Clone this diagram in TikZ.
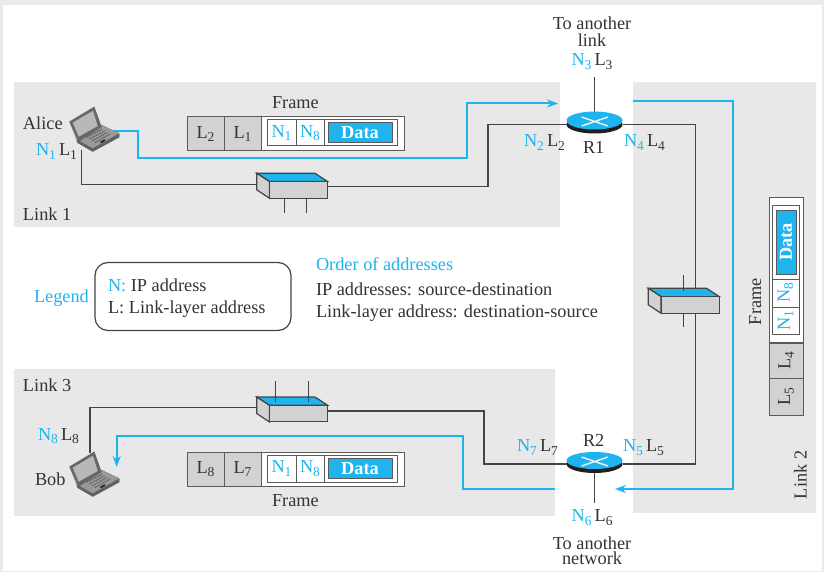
\documentclass[tikz,border=0pt]{standalone}
\usepackage{fontspec}
\setmainfont{Liberation Serif}
\usetikzlibrary{arrows.meta,shapes.geometric}
\definecolor{pagegrey}{HTML}{E9EAEA}
\definecolor{panelgrey}{HTML}{E8E8E8}
\definecolor{cellgrey}{HTML}{D2D2D2}
\definecolor{inkdark}{HTML}{333333}
\definecolor{wiredark}{HTML}{444444}
\definecolor{boxline}{HTML}{5A5A5A}
\definecolor{netblue}{HTML}{1FB4EE}
\newcommand\lsub[1]{\raisebox{-3.5pt}{\fontsize{13.5}{13.5}\selectfont #1}}
\newcommand\addr[4]{{\color{netblue}#1\lsub{#2}}\,#3\lsub{#4}}
\tikzset{
  x=1pt,y=-1pt,
  every node/.style={font=\fontsize{18.3}{18.3}\selectfont,text=inkdark,inner sep=0pt,outer sep=0pt},
  txt/.style={anchor=base west},
  blue txt/.style={anchor=base west,text=netblue},
  wire/.style={draw=wiredark,line width=1.4pt},
  netpath/.style={draw=netblue,line width=2pt},
  arrowed/.style={-{Stealth[length=11pt,width=8pt]}},
  hdr/.style={draw=boxline,line width=1pt,fill=cellgrey},
  whitebox/.style={draw=boxline,line width=1pt,fill=white},
  nbox/.style={draw=boxline,line width=1pt,fill=white,text=netblue},
  datafill/.style={draw=boxline,line width=1pt,fill=netblue,text=white,font=\fontsize{18.3}{18.3}\selectfont\bfseries},
  routerbase/.style={ellipse,fill=black!88,minimum width=56pt,minimum height=18pt},
  routertop/.style={fill=netblue,draw=none},
  hubfront/.style={draw=wiredark,line width=1.2pt,fill=cellgrey,minimum width=58pt,minimum height=16.5pt},
  laptop/.pic={
    \fill[black!35] (9.3,21.7) -- (34.3,6.7) -- (41.7,28.3) -- (59.3,33.3) -- (59.3,37.3) -- (32.7,51.7) -- (17.3,42.7) -- cycle;
    \fill[black!62] (16.7,39.3) -- (41.7,25) -- (59.3,33.3) -- (59.3,37.3) -- (32.7,51.7) -- (17.3,42.7) -- cycle;
    \fill[black!40] (16.7,39.3) -- (41.7,25) -- (59.3,33.3) -- (32.7,48.3) -- cycle;
    \fill[black!60] (9.3,21.7) -- (34.3,6.7) -- (41.7,27) -- (18.7,41.7) -- cycle;
    \fill[black!28] (12.7,22.7) -- (33,10.7) -- (37.7,26) -- (18.7,36.7) -- cycle;
    \draw[black!65,line width=1pt,dash pattern=on 1.5pt off .8pt] (26.7,37.3) -- (41.7,29.3) (29.5,39) -- (44.5,31) (32.3,40.7) -- (47.3,32.5) (35,42.7) -- (50,34);
    \draw[black!90,line width=1.5pt] (40.5,42.5) -- (45,40);
  }
}
\newcommand\hubtop[2]{%
  \fill[netblue,draw=wiredark,line width=1.2pt] (#1,#2) -- ++(58.3,0) -- ++(12.7,8.3) -- ++(-58,0) -- cycle;
  \fill[cellgrey,draw=wiredark,line width=1.2pt] (#1,#2) -- ++(12.7,8.3) -- ++(0,16.6) -- ++(-12.7,-8.4) -- cycle;
}
\begin{document}
\begin{tikzpicture}
\useasboundingbox (0,0) rectangle (824,572);
\fill[pagegrey] (0,0) rectangle (824,572);
\fill[white] (3,5) rectangle (822,571);
\fill[panelgrey] (14,82) rectangle (559.5,227);
\fill[panelgrey] (14,369) rectangle (555,515.5);
\fill[panelgrey] (633,82) rectangle (816,513);

% routers
\node[routerbase] (rA) at (594.5,124.5) {};
\node[routerbase] (rB) at (594.5,464) {};

% free ends
\coordinate (aliceport) at (81.5,150);
\coordinate (bobport) at (90,453);
\coordinate (upA) at (594.5,77);
\coordinate (downB) at (594.5,503);
\coordinate (hubAw) at (263,184.3);
\coordinate (hubAe) at (327,186.7);
\coordinate (hubBw) at (263,407.7);
\coordinate (hubBe) at (327,411);
\coordinate (hubCn) at (695.7,290);
\coordinate (hubCs) at (695.7,313);
\coordinate (blueA0) at (110,130.7);
\coordinate (blueA1) at (558,103.5);
\coordinate (blueB0) at (633,101.5);
\coordinate (blueB1) at (615,489);
\coordinate (blueC0) at (555,489);
\coordinate (blueC1) at (116.7,467);

% wires
\draw[wire] (aliceport) |- (hubAw);
\draw[wire] (hubAe) -- (488,186.7) |- (rA.west);
\draw[wire] (rA.east) -- (695.7,124.5) -- (hubCn);
\draw[wire] (hubCs) -- (695.7,464) -- (rB.east);
\draw[wire] (rB.west) -| (484,411) -- (hubBe);
\draw[wire] (hubBw) -| (bobport);
\draw[wire,line width=1.6pt] (upA) -- (rA.north);
\draw[wire,line width=1.6pt] (rB.south) -- (downB);

% router tops
\fill[routertop] (594.5,120.5) ellipse [x radius=28,y radius=9];
\fill[routertop] (594.5,460.5) ellipse [x radius=28,y radius=8.5];
\draw[white!90!netblue,line width=1.4pt] (581.5,117) -- (608,126) (581.5,126) -- (608,117);
\draw[white!90!netblue,line width=1.4pt] (581.5,457) -- (608,466) (581.5,466) -- (608,457);

% hubs
\hubtop{256.7}{173.3}
\node[hubfront] (hubA) at (298.3,190) {};
\draw[wire] (284.7,198.3) -- (284.7,212.7) (306.7,198.3) -- (306.7,212.7);
\hubtop{256.7}{397}
\node[hubfront] (hubB) at (298.3,413.5) {};
\draw[wire] (275.3,381) -- (275.3,401.7) (308.7,381) -- (308.7,401.7);
\hubtop{648.3}{288.3}
\node[hubfront] (hubC) at (690.3,305) {};
\draw[wire] (683.3,275) -- (683.3,291) (683.3,313.3) -- (683.3,326.7);

% blue paths
\draw[netpath,arrowed] (blueA0) -- (138,130.7) -- (138,158) -- (467,158) -- (467,103.5) -- (blueA1);
\draw[netpath,arrowed] (blueB0) -- (733,101.5) -- (733,489) -- (blueB1);
\draw[netpath,arrowed] (blueC0) -- (463,489) -- (463,436) -- (116.7,436) -- (blueC1);

% laptops
\pic at (60,100) {laptop};
\pic at (60,445) {laptop};

% top frame
\node[whitebox,minimum width=143pt,minimum height=34pt] (fAo) at (332.5,134) {};
\node[hdr,minimum width=37pt,minimum height=34pt] (fAa) at (205.5,134) {L\lsub{2}};
\node[hdr,minimum width=37pt,minimum height=34pt] (fAb) at (242.5,134) {L\lsub{1}};
\node[whitebox,minimum width=130pt,minimum height=26pt] (fAi) at (332,133) {};
\node[nbox,minimum width=29pt,minimum height=26pt] (fAn) at (281.5,133) {N\lsub{1}};
\node[nbox,minimum width=28pt,minimum height=26pt] (fAm) at (310,133) {N\lsub{8}};
\node[datafill,minimum width=64pt,minimum height=20pt] (fAd) at (360,133) {Data};

% bottom frame
\node[whitebox,minimum width=143pt,minimum height=34pt] (fBo) at (332.5,469) {};
\node[hdr,minimum width=37pt,minimum height=34pt] (fBa) at (205.5,469) {L\lsub{8}};
\node[hdr,minimum width=37pt,minimum height=34pt] (fBb) at (242.5,469) {L\lsub{7}};
\node[whitebox,minimum width=130pt,minimum height=27pt] (fBi) at (332,468.5) {};
\node[nbox,minimum width=29pt,minimum height=27pt] (fBn) at (281.5,468.5) {N\lsub{1}};
\node[nbox,minimum width=28pt,minimum height=27pt] (fBm) at (310,468.5) {N\lsub{8}};
\node[datafill,minimum width=64pt,minimum height=20pt] (fBd) at (360,468.5) {Data};

% right frame
\node[whitebox,minimum width=34pt,minimum height=144pt] (fCo) at (786,270) {};
\node[hdr,rotate=90,minimum width=37pt,minimum height=34pt] (fCa) at (786,396.5) {L\lsub{5}};
\node[hdr,rotate=90,minimum width=35pt,minimum height=34pt] (fCb) at (786,360.5) {L\lsub{4}};
\node[whitebox,minimum width=27pt,minimum height=129pt] (fCi) at (785.5,269.5) {};
\node[nbox,rotate=90,minimum width=27pt,minimum height=27pt] (fCn) at (785.5,320.5) {N\lsub{1}};
\node[nbox,rotate=90,minimum width=28pt,minimum height=27pt] (fCm) at (785.5,293) {N\lsub{8}};
\node[datafill,rotate=90,minimum width=64pt,minimum height=20pt] (fCd) at (786,242) {Data};

% frame labels
\node[txt] (tfA) at (272,109) {Frame};
\node[txt] (tfB) at (272,506.7) {Frame};
\node[rotate=90,anchor=base west] (tfC) at (761,325) {Frame};

% host and link labels
\node[txt] (tAlice) at (23,130) {Alice};
\node[txt] (tBob) at (35,485) {Bob};
\node[txt] (tL1) at (23,220) {Link 1};
\node[txt] (tL3) at (23,391) {Link 3};
\node[rotate=90,anchor=base west] (tL2) at (806.7,499) {Link 2};
\node[txt] (tR1) at (583,154) {R1};
\node[txt] (tR2) at (583,446) {R2};

% address labels
\node[txt] (a1) at (36,156) {\addr{N}{1}{L}{1}};
\node[txt] (a2) at (524,147) {\addr{N}{2}{L}{2}};
\node[txt] (a3) at (571.5,65.7) {\addr{N}{3}{L}{3}};
\node[txt] (a4) at (624,147) {\addr{N}{4}{L}{4}};
\node[txt] (a5) at (623,451.7) {\addr{N}{5}{L}{5}};
\node[txt] (a6) at (571.7,521.7) {\addr{N}{6}{L}{6}};
\node[txt] (a7) at (517,451.7) {\addr{N}{7}{L}{7}};
\node[txt] (a8) at (38,440) {\addr{N}{8}{L}{8}};

% other links
\node[anchor=center,align=center,font=\fontsize{18.3}{17}\selectfont] (tA) at (592,31.5) {To another\\link};
\node[anchor=center,align=center,font=\fontsize{18.3}{15}\selectfont] (tB) at (592,550.5) {To another\\network};

% legend
\node[draw=wiredark,line width=1.2pt,rounded corners=13pt,minimum width=196pt,minimum height=68pt] (lgbox) at (193,296.5) {};
\node[blue txt] (lg) at (34,302) {Legend};
\node[txt] (lgN) at (108,291) {{\color{netblue}N:} IP address};
\node[txt] (lgL) at (108,313) {L: Link-layer address};
\node[blue txt] (ord) at (316,270) {Order of addresses};
\node[txt] (ord1) at (316,295) {IP addresses: source-destination};
\node[txt] (ord2) at (316,317) {Link-layer address: destination-source};
\end{tikzpicture}
\end{document}
